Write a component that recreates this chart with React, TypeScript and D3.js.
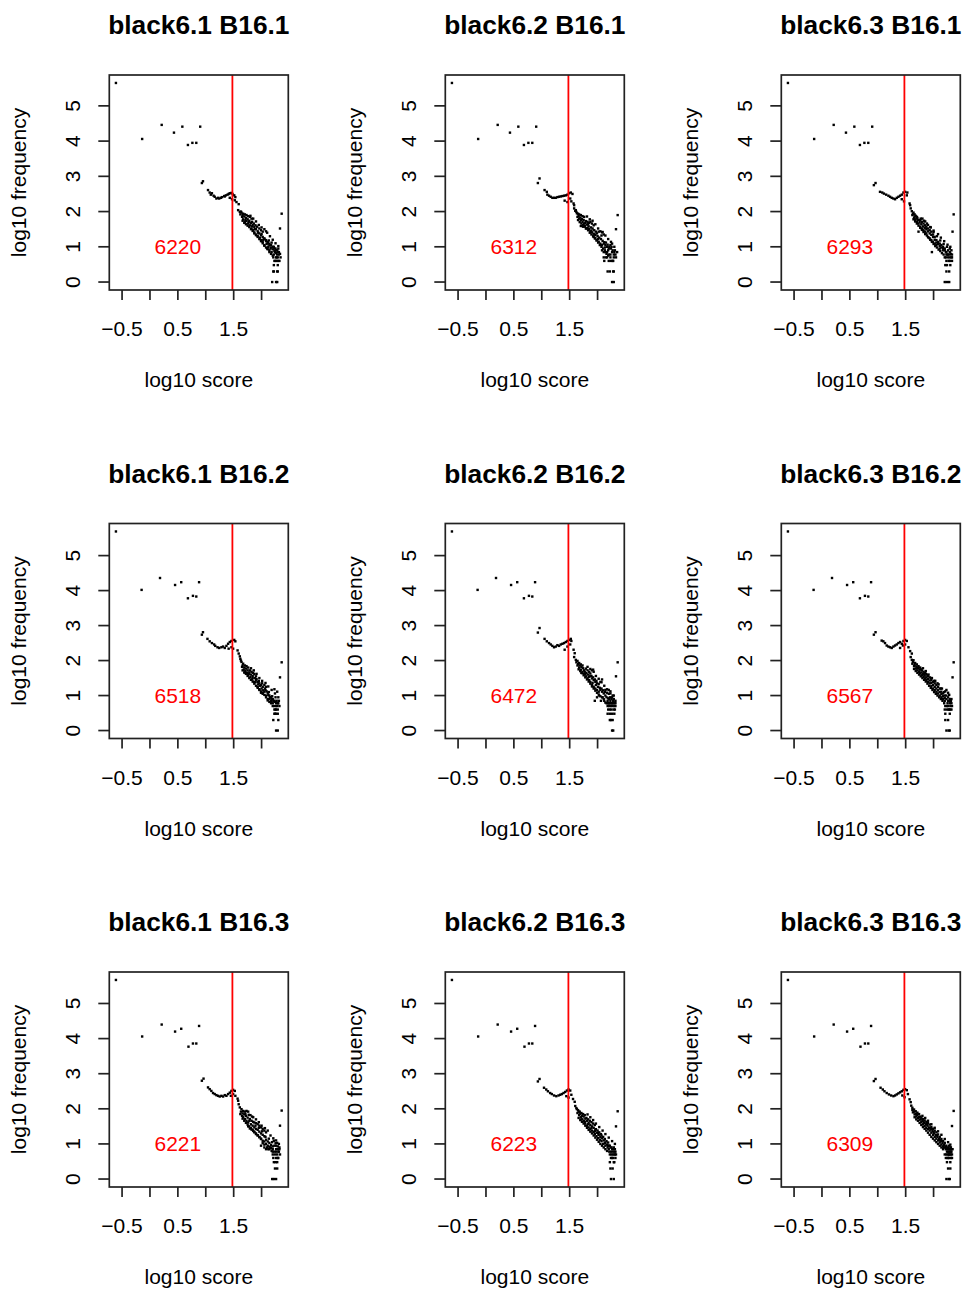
import React from "react";
import * as d3 from "d3";

type Pt = [number, number];

// sample names
const mouseSamples = ["black6.1", "black6.2", "black6.3"];
const tumorSamples = ["B16.1", "B16.2", "B16.3"];
// red counts shown in each panel, row-major (row = tumor sample, col = mouse sample)
const counts = [
  [6220, 6312, 6293],
  [6518, 6472, 6567],
  [6221, 6223, 6309],
];
const cutoff = Math.log10(30);
const xTicks = [-0.5, 0, 0.5, 1, 1.5, 2];
const xTickLabels = ["\u22120.5", "", "0.5", "", "1.5", ""];
const yTicks = [0, 1, 2, 3, 4, 5];

// upper-left points (log10 score, log10 frequency), per tumor row
const headRow1: Pt[] = [[-0.61, 5.65], [-0.14, 4.06], [0.21, 4.46], [0.43, 4.24], [0.58, 4.41], [0.68, 3.89], [0.76, 3.95], [0.83, 3.95], [0.9, 4.41]];
const headRow2: Pt[] = [[-0.61, 5.69], [-0.15, 4.02], [0.18, 4.36], [0.45, 4.16], [0.56, 4.24], [0.88, 4.24], [0.68, 3.78], [0.77, 3.85], [0.83, 3.83]];
const headRow3: Pt[] = [[-0.61, 5.67], [-0.14, 4.06], [0.21, 4.4], [0.45, 4.2], [0.56, 4.28], [0.88, 4.36], [0.69, 3.77], [0.77, 3.86], [0.83, 3.86]];

const tail11: Pt[] = [[0.93, 2.81], [0.95, 2.86], [1.04, 2.61], [1.07, 2.54], [1.09, 2.48], [1.11, 2.52], [1.14, 2.45], [1.16, 2.42], [1.19, 2.37], [1.22, 2.39], [1.24, 2.37], [1.27, 2.39], [1.29, 2.41], [1.33, 2.44], [1.34, 2.43], [1.36, 2.46], [1.39, 2.48], [1.41, 2.5], [1.43, 2.52], [1.46, 2.53], [1.48, 2.5], [1.51, 2.46], [1.53, 2.41], [1.43, 2.39], [1.47, 2.35], [1.52, 2.32], [1.55, 2.27], [1.59, 2.21],
  [1.58, 2.04], [1.61, 1.99], [1.64, 1.97], [1.62, 1.92], [1.67, 1.94], [1.7, 1.92], [1.73, 1.9], [1.76, 1.87], [1.79, 1.85], [1.82, 1.8], [1.65, 1.85], [1.67, 1.78], [1.7, 1.71], [1.73, 1.73], [1.76, 1.66], [1.79, 1.61], [1.83, 1.71], [1.86, 1.66], [1.89, 1.61], [1.92, 1.57], [1.96, 1.52], [1.99, 1.47], [2.02, 1.43], [2.05, 1.5], [2.08, 1.44], [1.82, 1.52], [1.85, 1.47], [1.87, 1.41], [1.9, 1.35], [1.93, 1.31], [1.97, 1.26], [1.99, 1.19], [2.02, 1.14], [2.05, 1.24], [2.08, 1.19], [2.11, 1.14], [2.14, 1.09], [2.17, 1.05], [2.12, 1.0], [2.16, 0.95], [2.2, 1.0], [2.23, 0.95], [2.26, 0.9], [2.29, 0.85], [2.18, 0.85], [2.22, 0.78], [2.24, 0.85], [2.28, 0.78], [2.31, 0.78], [2.34, 0.7], [2.14, 0.9], [2.05, 1.05], [2.1, 0.95],
  [2.36, 1.94], [2.33, 1.52],
  [2.23, 0.6], [2.25, 0.6], [2.27, 0.6], [2.3, 0.6], [2.32, 0.6], [2.26, 0.7], [2.29, 0.7], [2.22, 0.48], [2.29, 0.48], [2.21, 0.3], [2.22, 0.3], [2.28, 0.3], [2.29, 0.3], [2.19, 0], [2.26, 0], [2.28, 0]];
const fill11: Pt[] = [[1.63, 2.0], [1.66, 1.9], [1.69, 1.86], [1.72, 1.82], [1.75, 1.78], [1.78, 1.74], [1.81, 1.68], [1.84, 1.62], [1.87, 1.56], [1.9, 1.5], [1.93, 1.44], [1.96, 1.38], [1.99, 1.33], [2.02, 1.28], [2.05, 1.22], [2.08, 1.16], [2.11, 1.1], [2.14, 1.04], [2.17, 0.98], [2.2, 0.93], [2.23, 0.88], [2.26, 0.82], [1.71, 1.76], [1.77, 1.7], [1.83, 1.58], [1.88, 1.5], [1.94, 1.4], [2.0, 1.36], [2.03, 1.2], [2.09, 1.08], [2.13, 1.18], [2.18, 1.12], [2.22, 1.0], [2.25, 0.95], [2.28, 0.9], [2.31, 0.85], [2.27, 0.7], [2.21, 0.7], [2.3, 0.95], [2.33, 0.8]];
const edge11: Pt[] = [[1.66, 1.74], [1.69, 1.68], [1.72, 1.64], [1.75, 1.6], [1.78, 1.56], [1.81, 1.5], [1.84, 1.45], [1.87, 1.38], [1.9, 1.33], [1.93, 1.28], [1.96, 1.22], [1.99, 1.16], [2.02, 1.1], [2.05, 1.03], [2.08, 0.98], [2.11, 0.93], [2.14, 0.85], [2.17, 0.8], [2.2, 0.75], [1.8, 1.88], [1.85, 1.8], [1.9, 1.72], [1.95, 1.62], [2.0, 1.55], [2.1, 1.4], [2.15, 1.3], [2.2, 1.2], [2.25, 1.1], [2.3, 1.02]];

const tail12: Pt[] = [[0.93, 2.81], [0.96, 2.94], [1.05, 2.61], [1.09, 2.56], [1.1, 2.48], [1.13, 2.45], [1.16, 2.42], [1.19, 2.39], [1.22, 2.39], [1.25, 2.39], [1.28, 2.41], [1.31, 2.42], [1.34, 2.43], [1.37, 2.44], [1.4, 2.45], [1.43, 2.46], [1.46, 2.48], [1.49, 2.52], [1.52, 2.54], [1.55, 2.5], [1.41, 2.31], [1.46, 2.27], [1.51, 2.37], [1.53, 2.29], [1.57, 2.23], [1.58, 2.18],
  [1.58, 2.09], [1.61, 2.04], [1.62, 1.99], [1.65, 1.94], [1.67, 1.92], [1.7, 1.9], [1.73, 1.87], [1.76, 1.85], [1.64, 1.85], [1.67, 1.8], [1.7, 1.76], [1.73, 1.71], [1.76, 1.66], [1.79, 1.73], [1.82, 1.71], [1.85, 1.68], [1.87, 1.71], [1.9, 1.66], [1.93, 1.61], [1.7, 1.59], [1.74, 1.57], [1.79, 1.52], [1.82, 1.54], [1.85, 1.5], [1.87, 1.44], [1.9, 1.41], [1.93, 1.37], [1.96, 1.33], [1.99, 1.38], [2.02, 1.43], [2.05, 1.44], [2.08, 1.41], [2.11, 1.35], [1.93, 1.28], [1.96, 1.24], [1.99, 1.19], [2.02, 1.14], [2.05, 1.09], [2.08, 1.05], [2.11, 1.09], [2.14, 1.05], [2.17, 1.0], [2.2, 0.95], [2.23, 1.05], [2.26, 1.09], [2.08, 0.9], [2.11, 0.85], [2.14, 0.85], [2.17, 0.85], [2.2, 0.78], [2.23, 0.78], [2.26, 0.85], [2.29, 0.78], [2.32, 0.78], [2.35, 0.85],
  [2.36, 1.9], [2.33, 1.5],
  [2.11, 0.7], [2.17, 0.7], [2.23, 0.7], [2.29, 0.7], [2.12, 0.6], [2.2, 0.6], [2.28, 0.6], [2.18, 0.3], [2.22, 0.3], [2.28, 0.3], [2.29, 0.3], [2.26, 0], [2.29, 0]];
const fill12: Pt[] = [[1.6, 2.02], [1.63, 1.95], [1.66, 1.88], [1.69, 1.83], [1.72, 1.79], [1.75, 1.76], [1.78, 1.68], [1.81, 1.63], [1.84, 1.58], [1.88, 1.55], [1.91, 1.52], [1.94, 1.47], [1.97, 1.43], [2.0, 1.3], [2.03, 1.26], [2.06, 1.22], [2.09, 1.17], [2.12, 1.13], [2.15, 1.12], [2.18, 1.06], [2.21, 1.0], [2.24, 0.95], [2.27, 0.9], [2.3, 0.85], [1.77, 1.6], [1.83, 1.64], [1.89, 1.46], [1.95, 1.35], [2.01, 1.22], [2.07, 1.32], [2.13, 0.98], [2.19, 0.9], [2.25, 1.0], [2.31, 0.9], [2.33, 0.7], [2.27, 0.6], [2.24, 0.6], [2.15, 0.7]];
const edge12: Pt[] = [[1.65, 1.76], [1.68, 1.7], [1.71, 1.66], [1.74, 1.62], [1.77, 1.57], [1.8, 1.52], [1.83, 1.47], [1.86, 1.4], [1.89, 1.35], [1.92, 1.3], [1.95, 1.24], [1.98, 1.18], [2.01, 1.12], [2.04, 1.05], [2.07, 1.0], [2.1, 0.95], [2.13, 0.9], [2.16, 0.8], [2.19, 0.75], [1.81, 1.86], [1.86, 1.78], [1.91, 1.74], [1.96, 1.64], [2.01, 1.52], [2.09, 1.42], [2.14, 1.32], [2.19, 1.22], [2.24, 1.14], [2.3, 1.0]];

const tail13: Pt[] = [[0.93, 2.75], [0.96, 2.81], [1.04, 2.56], [1.08, 2.54], [1.11, 2.51], [1.15, 2.48], [1.19, 2.45], [1.22, 2.42], [1.25, 2.39], [1.28, 2.37], [1.31, 2.35], [1.34, 2.39], [1.37, 2.42], [1.4, 2.45], [1.43, 2.48], [1.46, 2.54], [1.49, 2.56], [1.53, 2.54], [1.43, 2.35], [1.47, 2.29], [1.52, 2.46], [1.57, 2.23], [1.58, 2.18],
  [1.59, 2.09], [1.61, 2.01], [1.64, 1.97], [1.66, 1.92], [1.68, 1.88], [1.71, 1.82], [1.62, 1.9], [1.65, 1.82], [1.67, 1.76], [1.7, 1.71], [1.73, 1.66], [1.76, 1.76], [1.79, 1.71], [1.82, 1.66], [1.85, 1.61], [1.87, 1.57], [1.9, 1.52], [1.76, 1.57], [1.79, 1.52], [1.82, 1.47], [1.85, 1.43], [1.87, 1.38], [1.73, 1.43], [1.93, 1.47], [1.96, 1.43], [1.99, 1.35], [2.02, 1.28], [1.9, 1.28], [1.93, 1.24], [1.96, 1.19], [1.99, 1.14], [2.02, 1.09], [2.05, 1.19], [2.08, 1.14], [2.11, 1.09], [2.14, 1.05], [2.17, 1.0], [2.2, 0.95], [2.05, 1.05], [2.11, 0.95], [2.17, 0.9], [2.22, 0.85], [2.26, 0.78], [2.29, 0.85], [2.32, 0.9], [2.23, 0.78], [2.29, 0.78], [2.32, 0.7], [1.97, 0.85],
  [2.36, 1.92], [2.34, 1.43],
  [2.22, 0.7], [2.26, 0.7], [2.29, 0.7], [2.33, 0.7], [2.23, 0.6], [2.29, 0.6], [2.33, 0.6], [2.21, 0.48], [2.24, 0.48], [2.3, 0.48], [2.23, 0.3], [2.28, 0.3], [2.2, 0], [2.24, 0], [2.28, 0]];
const fill13: Pt[] = [[1.63, 1.93], [1.66, 1.86], [1.69, 1.8], [1.72, 1.76], [1.75, 1.7], [1.78, 1.64], [1.81, 1.58], [1.84, 1.54], [1.87, 1.5], [1.9, 1.44], [1.93, 1.38], [1.96, 1.34], [1.99, 1.28], [2.02, 1.2], [2.05, 1.12], [2.08, 1.08], [2.11, 1.02], [2.14, 0.98], [2.17, 0.95], [2.2, 0.9], [2.23, 0.85], [2.26, 0.9], [2.29, 0.95], [1.7, 1.85], [1.77, 1.8], [1.83, 1.74], [1.88, 1.66], [1.94, 1.56], [2.0, 1.42], [2.06, 1.3], [2.12, 1.18], [2.18, 1.08], [2.24, 1.0], [2.31, 0.8], [2.27, 0.6], [2.25, 0.78], [2.33, 0.78], [2.2, 0.7]];
const edge13: Pt[] = [[1.64, 1.78], [1.67, 1.72], [1.7, 1.66], [1.73, 1.6], [1.76, 1.54], [1.79, 1.48], [1.82, 1.42], [1.85, 1.36], [1.88, 1.32], [1.91, 1.26], [1.94, 1.2], [1.97, 1.14], [2.0, 1.08], [2.03, 1.02], [2.06, 0.98], [2.09, 0.92], [2.12, 0.88], [2.15, 0.82], [2.18, 0.78], [1.8, 1.8], [1.85, 1.72], [1.9, 1.62], [1.95, 1.55], [2.0, 1.46], [2.08, 1.36], [2.13, 1.26], [2.19, 1.16], [2.25, 1.06], [2.3, 1.0]];

const tail21: Pt[] = [[0.93, 2.74], [0.95, 2.81], [1.03, 2.62], [1.07, 2.55], [1.11, 2.5], [1.15, 2.46], [1.17, 2.42], [1.21, 2.38], [1.24, 2.36], [1.28, 2.38], [1.31, 2.4], [1.34, 2.36], [1.37, 2.42], [1.4, 2.48], [1.43, 2.53], [1.46, 2.56], [1.51, 2.59], [1.53, 2.55], [1.41, 2.34], [1.46, 2.38], [1.49, 2.34], [1.57, 2.29], [1.59, 2.2],
  [1.61, 2.12], [1.62, 2.05], [1.64, 1.96], [1.67, 1.91], [1.7, 1.86], [1.73, 1.84], [1.76, 1.8], [1.65, 1.82], [1.68, 1.74], [1.71, 1.7], [1.74, 1.65], [1.79, 1.72], [1.82, 1.68], [1.85, 1.65], [1.87, 1.61], [1.9, 1.55], [1.76, 1.58], [1.8, 1.53], [1.83, 1.46], [1.86, 1.39], [1.9, 1.44], [1.93, 1.39], [1.96, 1.35], [1.99, 1.3], [2.02, 1.25], [2.05, 1.3], [2.08, 1.25], [1.93, 1.25], [1.96, 1.16], [1.99, 1.08], [2.02, 1.05], [2.05, 1.11], [2.08, 1.0], [2.11, 1.08], [2.14, 1.0], [2.17, 0.95], [2.2, 0.9], [2.23, 0.85], [2.26, 0.78], [2.29, 0.78], [2.32, 0.7], [2.14, 0.9], [2.17, 0.85], [2.2, 0.78], [2.23, 1.18], [2.28, 1.11], [2.11, 0.9],
  [2.36, 1.95], [2.33, 1.52],
  [2.23, 0.7], [2.26, 0.7], [2.23, 0.6], [2.26, 0.6], [2.29, 0.6], [2.23, 0.48], [2.26, 0.48], [2.29, 0.48], [2.21, 0.3], [2.3, 0.3], [2.26, 0], [2.29, 0]];
const fill21: Pt[] = [[1.63, 2.0], [1.66, 1.86], [1.69, 1.8], [1.72, 1.77], [1.75, 1.72], [1.78, 1.66], [1.81, 1.6], [1.84, 1.56], [1.88, 1.5], [1.91, 1.47], [1.94, 1.32], [1.97, 1.28], [2.0, 1.2], [2.03, 1.15], [2.06, 1.2], [2.09, 1.12], [2.12, 1.02], [2.15, 0.95], [2.18, 0.9], [2.21, 0.85], [2.24, 0.82], [2.27, 0.85], [2.3, 0.78], [1.7, 1.66], [1.77, 1.62], [1.84, 1.5], [1.89, 1.38], [1.95, 1.42], [2.01, 1.35], [2.07, 1.16], [2.13, 1.1], [2.19, 0.98], [2.25, 0.95], [2.31, 0.85], [2.25, 0.6], [2.28, 0.7], [2.2, 0.7], [2.24, 0.48]];
const edge21: Pt[] = [[1.66, 1.72], [1.69, 1.66], [1.72, 1.62], [1.75, 1.56], [1.78, 1.5], [1.81, 1.45], [1.84, 1.4], [1.87, 1.34], [1.9, 1.28], [1.93, 1.22], [1.96, 1.18], [1.99, 1.12], [2.02, 1.08], [2.05, 1.02], [2.08, 0.95], [2.11, 0.86], [2.14, 0.82], [2.17, 0.78], [1.81, 1.78], [1.86, 1.72], [1.91, 1.62], [1.96, 1.5], [2.01, 1.42], [2.07, 1.36], [2.12, 1.26], [2.18, 1.16], [2.24, 1.06], [2.3, 0.95]];

const tail22: Pt[] = [[0.93, 2.8], [0.96, 2.93], [1.05, 2.62], [1.09, 2.55], [1.13, 2.5], [1.16, 2.46], [1.19, 2.42], [1.22, 2.38], [1.25, 2.4], [1.28, 2.44], [1.31, 2.42], [1.34, 2.46], [1.37, 2.48], [1.4, 2.5], [1.43, 2.53], [1.46, 2.56], [1.49, 2.59], [1.52, 2.62], [1.53, 2.56], [1.41, 2.31], [1.46, 2.4], [1.51, 2.46], [1.57, 2.31], [1.59, 2.21],
  [1.58, 2.1], [1.61, 2.02], [1.64, 1.99], [1.67, 1.93], [1.7, 1.89], [1.73, 1.86], [1.64, 1.86], [1.67, 1.8], [1.7, 1.74], [1.73, 1.68], [1.76, 1.72], [1.79, 1.77], [1.82, 1.72], [1.85, 1.68], [1.87, 1.63], [1.9, 1.72], [1.93, 1.68], [1.76, 1.61], [1.79, 1.55], [1.82, 1.49], [1.85, 1.44], [1.87, 1.39], [1.9, 1.49], [1.93, 1.44], [1.96, 1.39], [1.99, 1.35], [2.02, 1.33], [2.05, 1.39], [2.08, 1.46], [1.9, 1.3], [1.93, 1.25], [1.96, 1.2], [1.99, 1.16], [2.02, 1.11], [2.05, 1.16], [2.08, 1.11], [2.11, 1.06], [2.14, 1.0], [2.17, 1.08], [2.2, 1.16], [2.23, 1.06], [2.26, 0.95], [2.29, 0.9], [2.32, 0.85], [1.95, 0.85], [1.99, 0.95], [2.12, 0.85], [2.16, 0.78], [2.18, 0.85], [2.21, 0.78], [2.23, 0.85], [2.26, 0.78],
  [2.36, 1.95], [2.33, 1.55],
  [2.18, 0.78], [2.2, 0.78], [2.23, 0.78], [2.25, 0.78], [2.28, 0.78], [2.3, 0.78], [2.18, 0.7], [2.21, 0.7], [2.24, 0.7], [2.27, 0.7], [2.3, 0.7], [2.19, 0.6], [2.22, 0.6], [2.25, 0.6], [2.29, 0.6], [2.18, 0.48], [2.22, 0.48], [2.26, 0.48], [2.3, 0.48], [2.22, 0.3], [2.24, 0.3], [2.27, 0.3], [2.26, 0], [2.28, 0]];
const fill22: Pt[] = [[1.62, 1.95], [1.65, 1.9], [1.68, 1.86], [1.71, 1.82], [1.74, 1.78], [1.77, 1.68], [1.8, 1.64], [1.83, 1.6], [1.86, 1.55], [1.89, 1.56], [1.92, 1.52], [1.95, 1.46], [1.98, 1.42], [2.01, 1.25], [2.04, 1.22], [2.07, 1.2], [2.1, 1.15], [2.13, 1.1], [2.16, 0.95], [2.19, 0.92], [2.22, 0.95], [2.25, 0.9], [2.28, 0.85], [2.31, 0.8], [1.71, 1.65], [1.78, 1.62], [1.84, 1.53], [1.91, 1.36], [1.97, 1.3], [2.03, 1.0], [2.09, 0.95], [2.14, 1.16], [2.2, 1.05], [2.27, 1.0], [2.32, 0.7], [2.31, 0.6], [2.32, 0.78], [2.21, 0.9]];
const edge22: Pt[] = [[1.66, 1.75], [1.69, 1.7], [1.72, 1.64], [1.75, 1.58], [1.78, 1.52], [1.81, 1.46], [1.84, 1.4], [1.87, 1.34], [1.9, 1.26], [1.93, 1.2], [1.96, 1.14], [1.99, 1.08], [2.02, 1.03], [2.05, 0.98], [2.08, 0.95], [2.11, 0.9], [2.14, 0.8], [1.82, 1.82], [1.87, 1.76], [1.92, 1.74], [1.97, 1.56], [2.02, 1.48], [2.07, 1.38], [2.12, 1.28], [2.17, 1.18], [2.23, 1.12], [2.29, 1.0], [2.06, 0.85]];

const tail23: Pt[] = [[0.93, 2.74], [0.96, 2.81], [1.07, 2.57], [1.1, 2.55], [1.13, 2.5], [1.16, 2.43], [1.19, 2.4], [1.22, 2.38], [1.25, 2.36], [1.28, 2.4], [1.31, 2.43], [1.34, 2.46], [1.37, 2.5], [1.4, 2.53], [1.43, 2.48], [1.46, 2.56], [1.49, 2.59], [1.52, 2.56], [1.4, 2.36], [1.45, 2.43], [1.49, 2.46], [1.55, 2.38], [1.58, 2.27], [1.61, 2.2],
  [1.59, 2.1], [1.61, 2.02], [1.64, 2.01], [1.67, 1.93], [1.7, 1.89], [1.73, 1.84], [1.76, 1.8], [1.62, 1.91], [1.65, 1.84], [1.68, 1.77], [1.71, 1.72], [1.74, 1.68], [1.79, 1.72], [1.82, 1.68], [1.85, 1.65], [1.87, 1.61], [1.9, 1.55], [1.93, 1.52], [1.76, 1.63], [1.79, 1.58], [1.82, 1.53], [1.85, 1.49], [1.87, 1.44], [1.9, 1.39], [1.93, 1.35], [1.96, 1.44], [1.99, 1.39], [2.02, 1.35], [2.05, 1.3], [2.08, 1.25], [2.11, 1.2], [1.96, 1.27], [1.99, 1.2], [2.02, 1.16], [2.05, 1.11], [2.08, 1.06], [2.11, 1.0], [2.14, 1.11], [2.17, 1.06], [2.2, 1.0], [2.23, 1.16], [2.26, 1.08], [2.14, 0.95], [2.17, 0.9], [2.2, 0.85], [2.23, 0.9], [2.26, 0.85], [2.29, 0.85], [2.32, 0.78], [2.29, 0.78], [2.32, 0.9],
  [2.36, 1.95], [2.34, 1.52],
  [2.21, 0.7], [2.26, 0.7], [2.3, 0.7], [2.2, 0.6], [2.24, 0.6], [2.28, 0.6], [2.32, 0.6], [2.21, 0.48], [2.29, 0.48], [2.21, 0.3], [2.26, 0.3], [2.23, 0], [2.27, 0], [2.29, 0]];
const fill23: Pt[] = [[1.63, 1.96], [1.66, 1.88], [1.69, 1.83], [1.72, 1.78], [1.75, 1.74], [1.78, 1.66], [1.81, 1.62], [1.84, 1.57], [1.87, 1.52], [1.9, 1.47], [1.93, 1.43], [1.96, 1.36], [1.99, 1.3], [2.02, 1.25], [2.05, 1.2], [2.08, 1.15], [2.11, 1.1], [2.14, 1.04], [2.17, 0.98], [2.2, 0.93], [2.23, 1.0], [2.26, 0.95], [2.29, 0.9], [2.31, 0.85], [1.71, 1.8], [1.77, 1.75], [1.83, 1.6], [1.89, 1.58], [1.95, 1.5], [2.01, 1.42], [2.07, 1.35], [2.13, 1.2], [2.19, 1.1], [2.25, 0.78], [2.33, 0.7], [2.27, 0.6], [2.3, 0.6], [2.24, 0.7]];
const edge23: Pt[] = [[1.65, 1.76], [1.68, 1.7], [1.71, 1.65], [1.74, 1.6], [1.77, 1.55], [1.8, 1.5], [1.83, 1.45], [1.86, 1.4], [1.89, 1.34], [1.92, 1.28], [1.95, 1.22], [1.98, 1.16], [2.01, 1.1], [2.04, 1.05], [2.07, 1.0], [2.1, 0.95], [2.13, 0.9], [2.16, 0.85], [2.19, 0.78], [1.81, 1.78], [1.86, 1.7], [1.91, 1.6], [1.97, 1.5], [2.03, 1.42], [2.09, 1.32], [2.15, 1.2], [2.21, 1.12], [2.28, 1.02]];

const tail31: Pt[] = [[0.93, 2.8], [0.96, 2.86], [1.04, 2.61], [1.07, 2.56], [1.1, 2.51], [1.13, 2.45], [1.16, 2.42], [1.19, 2.39], [1.22, 2.37], [1.25, 2.35], [1.28, 2.37], [1.31, 2.35], [1.34, 2.39], [1.37, 2.37], [1.4, 2.42], [1.43, 2.46], [1.46, 2.51], [1.49, 2.54], [1.52, 2.51], [1.45, 2.37], [1.49, 2.42], [1.53, 2.37], [1.57, 2.29], [1.58, 2.23], [1.59, 2.13],
  [1.61, 2.04], [1.64, 1.99], [1.67, 1.94], [1.7, 1.92], [1.73, 1.94], [1.76, 1.92], [1.62, 1.85], [1.65, 1.8], [1.67, 1.76], [1.7, 1.71], [1.73, 1.66], [1.76, 1.61], [1.79, 1.71], [1.82, 1.66], [1.85, 1.63], [1.87, 1.61], [1.9, 1.59], [1.93, 1.56], [1.96, 1.52], [1.99, 1.47], [2.02, 1.43], [2.05, 1.38], [2.08, 1.33], [1.76, 1.5], [1.79, 1.44], [1.82, 1.41], [1.85, 1.37], [1.87, 1.33], [1.9, 1.28], [1.93, 1.24], [1.96, 1.19], [1.99, 1.14], [2.02, 1.09], [2.05, 1.07], [2.08, 1.12], [2.11, 1.07], [2.14, 1.03], [2.17, 0.97], [1.99, 0.95], [2.05, 0.9], [2.08, 0.85], [2.12, 0.85], [2.16, 0.9], [2.2, 0.85], [2.23, 0.78], [2.26, 0.85], [2.29, 0.85], [2.32, 0.9], [2.2, 0.78], [2.26, 0.78], [2.3, 0.78], [2.22, 1.09], [2.28, 1.03],
  [2.36, 1.95], [2.33, 1.52],
  [2.2, 0.7], [2.24, 0.7], [2.28, 0.7], [2.21, 0.6], [2.26, 0.6], [2.29, 0.6], [2.22, 0.48], [2.28, 0.48], [2.24, 0.3], [2.28, 0.3], [2.19, 0], [2.22, 0], [2.26, 0]];
const fill31: Pt[] = [[1.63, 1.92], [1.66, 1.87], [1.69, 1.84], [1.72, 1.8], [1.75, 1.75], [1.78, 1.66], [1.81, 1.56], [1.84, 1.52], [1.87, 1.47], [1.9, 1.43], [1.93, 1.4], [1.96, 1.35], [1.99, 1.3], [2.02, 1.26], [2.05, 1.22], [2.08, 1.0], [2.11, 0.95], [2.14, 0.92], [2.17, 0.88], [2.2, 0.93], [2.23, 0.95], [2.26, 0.95], [2.29, 0.93], [2.32, 0.85], [1.71, 1.86], [1.77, 1.83], [1.83, 1.78], [1.89, 1.52], [1.95, 1.46], [2.01, 1.36], [2.07, 1.2], [2.13, 1.15], [2.19, 1.05], [2.25, 1.02], [2.31, 0.78], [2.33, 0.7], [2.3, 0.6], [2.25, 0.48]];
const edge31: Pt[] = [[1.66, 1.72], [1.69, 1.66], [1.72, 1.6], [1.75, 1.55], [1.78, 1.5], [1.81, 1.45], [1.84, 1.4], [1.87, 1.35], [1.9, 1.3], [1.93, 1.25], [1.96, 1.2], [1.99, 1.15], [2.02, 1.02], [2.05, 0.98], [2.1, 0.9], [2.14, 0.85], [2.18, 0.8], [1.8, 1.82], [1.85, 1.76], [1.9, 1.7], [1.95, 1.62], [2.0, 1.52], [2.06, 1.45], [2.11, 1.38], [2.16, 1.24], [2.21, 1.16], [2.26, 1.1], [2.31, 1.0]];

const tail32: Pt[] = [[0.93, 2.78], [0.96, 2.85], [1.04, 2.6], [1.08, 2.55], [1.11, 2.5], [1.15, 2.45], [1.18, 2.42], [1.22, 2.38], [1.26, 2.36], [1.3, 2.38], [1.33, 2.4], [1.36, 2.42], [1.39, 2.45], [1.42, 2.48], [1.45, 2.52], [1.48, 2.55], [1.51, 2.52], [1.44, 2.36], [1.48, 2.32], [1.53, 2.4], [1.56, 2.28], [1.59, 2.2],
  [1.6, 2.08], [1.62, 2.02], [1.65, 1.96], [1.68, 1.92], [1.71, 1.88], [1.74, 1.85], [1.77, 1.82], [1.64, 1.88], [1.67, 1.82], [1.7, 1.76], [1.73, 1.7], [1.76, 1.65], [1.8, 1.74], [1.83, 1.7], [1.86, 1.66], [1.89, 1.62], [1.92, 1.58], [1.95, 1.54], [1.78, 1.58], [1.81, 1.52], [1.84, 1.47], [1.87, 1.42], [1.9, 1.38], [1.93, 1.34], [1.97, 1.42], [2.0, 1.38], [2.03, 1.33], [2.06, 1.28], [1.95, 1.28], [1.98, 1.22], [2.01, 1.17], [2.04, 1.12], [2.07, 1.08], [2.1, 1.2], [2.13, 1.14], [2.16, 1.08], [2.19, 1.04], [2.1, 1.0], [2.14, 0.95], [2.18, 0.9], [2.22, 0.95], [2.25, 0.9], [2.28, 0.85], [2.31, 0.85], [2.2, 0.85], [2.24, 0.78], [2.27, 0.78], [2.3, 0.78], [2.33, 0.7],
  [2.36, 1.93], [2.33, 1.5],
  [2.22, 0.7], [2.27, 0.7], [2.3, 0.7], [2.24, 0.6], [2.28, 0.6], [2.32, 0.6], [2.22, 0.48], [2.29, 0.48], [2.23, 0.3], [2.27, 0.3], [2.24, 0], [2.29, 0]];
const fill32: Pt[] = [[1.63, 1.99], [1.66, 1.92], [1.69, 1.86], [1.72, 1.8], [1.75, 1.78], [1.78, 1.72], [1.81, 1.66], [1.84, 1.6], [1.87, 1.54], [1.9, 1.5], [1.93, 1.46], [1.96, 1.4], [1.99, 1.32], [2.02, 1.26], [2.05, 1.2], [2.08, 1.16], [2.11, 1.1], [2.14, 1.04], [2.17, 0.98], [2.2, 0.95], [2.23, 0.9], [2.26, 0.85], [2.29, 0.9], [2.32, 0.78], [1.71, 1.7], [1.77, 1.62], [1.83, 1.56], [1.89, 1.46], [1.95, 1.36], [2.01, 1.3], [2.07, 1.24], [2.13, 1.02], [2.19, 0.95], [2.25, 0.7], [2.3, 0.48], [2.26, 0.6], [2.31, 0.7], [2.21, 0.78]];
const edge32: Pt[] = [[1.66, 1.74], [1.69, 1.68], [1.72, 1.63], [1.75, 1.58], [1.78, 1.52], [1.81, 1.46], [1.84, 1.4], [1.87, 1.35], [1.9, 1.3], [1.93, 1.24], [1.96, 1.18], [1.99, 1.12], [2.02, 1.06], [2.05, 1.0], [2.08, 0.95], [2.11, 0.9], [2.14, 0.85], [2.17, 0.8], [1.82, 1.84], [1.87, 1.76], [1.92, 1.68], [1.97, 1.58], [2.03, 1.48], [2.09, 1.38], [2.14, 1.28], [2.2, 1.18], [2.26, 1.08], [2.31, 1.0]];

const tail33: Pt[] = [[0.93, 2.79], [0.96, 2.85], [1.05, 2.6], [1.09, 2.55], [1.12, 2.5], [1.16, 2.45], [1.2, 2.41], [1.24, 2.38], [1.28, 2.36], [1.31, 2.38], [1.34, 2.41], [1.37, 2.44], [1.4, 2.47], [1.43, 2.5], [1.46, 2.54], [1.49, 2.56], [1.52, 2.53], [1.44, 2.38], [1.48, 2.33], [1.54, 2.42], [1.57, 2.27], [1.59, 2.19],
  [1.6, 2.09], [1.62, 2.03], [1.65, 1.98], [1.68, 1.93], [1.71, 1.89], [1.74, 1.85], [1.63, 1.9], [1.66, 1.84], [1.69, 1.78], [1.72, 1.74], [1.75, 1.69], [1.78, 1.75], [1.81, 1.71], [1.84, 1.67], [1.87, 1.63], [1.9, 1.59], [1.93, 1.55], [1.78, 1.62], [1.81, 1.56], [1.84, 1.51], [1.87, 1.46], [1.9, 1.42], [1.93, 1.38], [1.96, 1.48], [1.99, 1.43], [2.02, 1.38], [2.05, 1.33], [2.08, 1.27], [1.96, 1.32], [1.99, 1.26], [2.02, 1.2], [2.05, 1.15], [2.08, 1.1], [2.11, 1.2], [2.14, 1.14], [2.17, 1.08], [2.2, 1.03], [2.11, 1.04], [2.14, 0.98], [2.17, 0.93], [2.2, 0.9], [2.23, 0.95], [2.26, 0.9], [2.29, 0.85], [2.32, 0.85], [2.22, 0.85], [2.24, 0.85], [2.26, 0.78], [2.28, 0.78], [2.3, 0.78], [2.32, 0.78], [2.27, 0.85], [2.3, 0.9],
  [2.36, 1.94], [2.33, 1.51],
  [2.2, 0.7], [2.23, 0.7], [2.25, 0.7], [2.27, 0.7], [2.29, 0.7], [2.31, 0.7], [2.33, 0.7], [2.22, 0.6], [2.25, 0.6], [2.28, 0.6], [2.31, 0.6], [2.33, 0.6], [2.24, 0.48], [2.3, 0.48], [2.26, 0.3], [2.3, 0.3], [2.23, 0], [2.27, 0], [2.29, 0]];
const fill33: Pt[] = [[1.62, 1.97], [1.65, 1.92], [1.68, 1.86], [1.71, 1.82], [1.74, 1.76], [1.77, 1.7], [1.8, 1.66], [1.83, 1.6], [1.86, 1.56], [1.89, 1.52], [1.92, 1.47], [1.95, 1.42], [1.98, 1.37], [2.01, 1.3], [2.04, 1.25], [2.07, 1.2], [2.1, 1.14], [2.13, 1.08], [2.16, 1.02], [2.19, 0.97], [2.22, 0.92], [2.25, 0.88], [2.28, 0.95], [2.31, 0.9], [1.7, 1.84], [1.76, 1.78], [1.82, 1.64], [1.88, 1.56], [1.94, 1.45], [2.0, 1.34], [2.06, 1.24], [2.12, 1.1], [2.18, 0.9], [2.24, 0.78], [2.31, 0.78], [2.34, 0.85], [2.28, 0.7], [2.26, 0.6]];
const edge33: Pt[] = [[1.66, 1.76], [1.69, 1.7], [1.72, 1.66], [1.75, 1.6], [1.78, 1.54], [1.81, 1.48], [1.84, 1.43], [1.87, 1.38], [1.9, 1.32], [1.93, 1.26], [1.96, 1.2], [1.99, 1.15], [2.02, 1.1], [2.05, 1.05], [2.08, 1.0], [2.11, 0.95], [2.14, 0.9], [2.17, 0.85], [1.8, 1.8], [1.85, 1.74], [1.9, 1.66], [1.96, 1.56], [2.02, 1.46], [2.08, 1.36], [2.14, 1.26], [2.2, 1.14], [2.26, 1.05], [2.3, 0.98]];

const heads = [headRow1, headRow2, headRow3];
const tails = [
  [tail11, tail12, tail13],
  [tail21, tail22, tail23],
  [tail31, tail32, tail33],
];
const fills = [
  [fill11, fill12, fill13],
  [fill21, fill22, fill23],
  [fill31, fill32, fill33],
];
const edges = [
  [edge11, edge12, edge13],
  [edge21, edge22, edge23],
  [edge31, edge32, edge33],
];

const FONT = "'Liberation Sans', Arial, Helvetica, sans-serif";
const BOX_W = 179;
const BOX_H = 215;
const LEFT0 = 109.3;
const TOP0 = 75;
const COL_STEP = 336;
const ROW_STEP = 448.5;

function padDomain(ext: [number, number]): [number, number] {
  const r = ext[1] - ext[0];
  return [ext[0] - 0.04 * r, ext[1] + 0.04 * r];
}

function Panel({ row, col }: { row: number; col: number }) {
  const data: Pt[] = heads[row].concat(tails[row][col], fills[row][col], edges[row][col]);
  const left = LEFT0 + col * COL_STEP;
  const top = TOP0 + row * ROW_STEP;
  const xExt = d3.extent(data, (d) => d[0]) as [number, number];
  const yExt = d3.extent(data, (d) => d[1]) as [number, number];
  const sx = d3.scaleLinear().domain(padDomain(xExt)).range([left, left + BOX_W]);
  const sy = d3.scaleLinear().domain(padDomain(yExt)).range([top + BOX_H, top]);
  const bottom = top + BOX_H;
  const cx = left + BOX_W / 2;
  const title = `${mouseSamples[col]} ${tumorSamples[row]}`;
  return (
    <g>
      <text x={cx} y={top - 41} textAnchor="middle" fontFamily={FONT} fontWeight="bold" fontSize={26.3} fill="#000">
        {title}
      </text>
      {data.map((d, i) => (
        <rect key={i} x={sx(d[0]) - 1.2} y={sy(d[1]) - 1.2} width={2.4} height={2.4} fill="#000" />
      ))}
      <line x1={sx(cutoff)} x2={sx(cutoff)} y1={top} y2={bottom} stroke="#ff0000" strokeWidth={1.8} />
      <text x={sx(0.5)} y={sy(1)} dy="0.36em" textAnchor="middle" fontFamily={FONT} fontSize={21} fill="#ff0000">
        {counts[row][col]}
      </text>
      <rect x={left} y={top} width={BOX_W} height={BOX_H} fill="none" stroke="#222" strokeWidth={1.7} />
      {xTicks.map((t, i) => (
        <g key={"x" + i}>
          <line x1={sx(t)} x2={sx(t)} y1={bottom} y2={bottom + 10} stroke="#222" strokeWidth={1.7} />
          {xTickLabels[i] && (
            <text x={sx(t)} y={bottom + 46} textAnchor="middle" fontFamily={FONT} fontSize={21} fill="#000">
              {xTickLabels[i]}
            </text>
          )}
        </g>
      ))}
      {yTicks.map((t) => (
        <g key={"y" + t}>
          <line x1={left - 11} x2={left} y1={sy(t)} y2={sy(t)} stroke="#222" strokeWidth={1.7} />
          <text
            transform={`translate(${left - 29},${sy(t)}) rotate(-90)`}
            textAnchor="middle"
            fontFamily={FONT}
            fontSize={21}
            fill="#000"
          >
            {t}
          </text>
        </g>
      ))}
      <text x={cx} y={bottom + 97} textAnchor="middle" fontFamily={FONT} fontSize={21} fill="#000">
        log10 score
      </text>
      <text
        transform={`translate(${left - 83},${top + BOX_H / 2}) rotate(-90)`}
        textAnchor="middle"
        fontFamily={FONT}
        fontSize={21}
        fill="#000"
      >
        log10 frequency
      </text>
    </g>
  );
}

export default function App() {
  const cells: { row: number; col: number }[] = [];
  for (let r = 0; r < 3; r++) for (let c = 0; c < 3; c++) cells.push({ row: r, col: c });
  return (
    <svg
      width={965}
      height={1291}
      style={{ position: "absolute", left: 0, top: 0, background: "#fff" }}
    >
      <rect x={0} y={0} width={965} height={1291} fill="#fff" />
      {cells.map((c) => (
        <Panel key={`${c.row}-${c.col}`} row={c.row} col={c.col} />
      ))}
    </svg>
  );
}
